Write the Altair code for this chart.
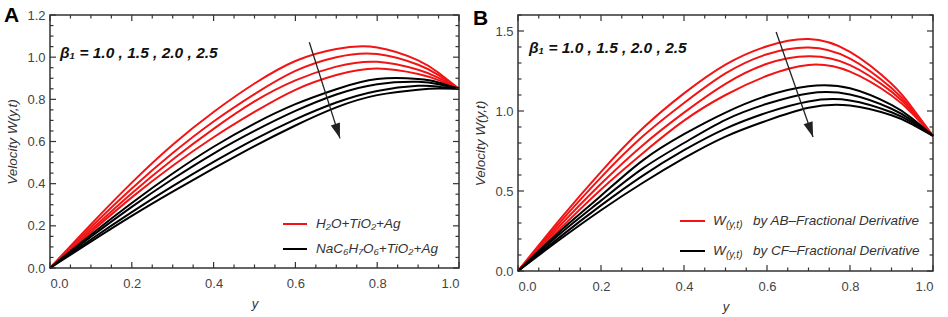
import altair as alt
import pandas as pd

# ---------------- data ----------------
ygrid = [0, 0.1, 0.2, 0.3, 0.4, 0.5, 0.6, 0.7, 0.8, 0.9, 0.95, 1.0]
betas = ["1.0", "1.5", "2.0", "2.5"]

# Panel A: H2O+TiO2+Ag (red) and NaC6H7O6+TiO2+Ag (black)
A_red = [
    [0, 0.207, 0.405, 0.585, 0.740, 0.875, 0.982, 1.039, 1.046, 0.985, 0.926, 0.85],
    [0, 0.193, 0.377, 0.545, 0.695, 0.825, 0.935, 1.000, 1.015, 0.964, 0.915, 0.85],
    [0, 0.180, 0.355, 0.515, 0.660, 0.790, 0.890, 0.955, 0.978, 0.940, 0.902, 0.85],
    [0, 0.170, 0.335, 0.485, 0.620, 0.740, 0.845, 0.915, 0.946, 0.920, 0.891, 0.85],
]
A_black = [
    [0, 0.158, 0.308, 0.448, 0.575, 0.685, 0.777, 0.848, 0.896, 0.896, 0.880, 0.85],
    [0, 0.148, 0.290, 0.422, 0.543, 0.650, 0.745, 0.823, 0.872, 0.883, 0.872, 0.85],
    [0, 0.135, 0.265, 0.388, 0.503, 0.610, 0.705, 0.785, 0.840, 0.864, 0.860, 0.85],
    [0, 0.125, 0.247, 0.362, 0.472, 0.578, 0.676, 0.762, 0.820, 0.846, 0.851, 0.85],
]
# Panel B: AB-fractional (red) and CF-fractional (black)
B_red = [
    [0, 0.320, 0.620, 0.890, 1.110, 1.290, 1.405, 1.450, 1.370, 1.170, 1.020, 0.845],
    [0, 0.300, 0.585, 0.840, 1.050, 1.235, 1.355, 1.397, 1.328, 1.144, 1.009, 0.845],
    [0, 0.280, 0.545, 0.785, 0.990, 1.170, 1.295, 1.342, 1.287, 1.121, 0.997, 0.845],
    [0, 0.260, 0.510, 0.735, 0.940, 1.100, 1.220, 1.288, 1.246, 1.097, 0.984, 0.845],
]
B_black = [
    [0, 0.245, 0.470, 0.690, 0.855, 0.990, 1.095, 1.155, 1.142, 1.038, 0.953, 0.845],
    [0, 0.230, 0.440, 0.640, 0.800, 0.945, 1.045, 1.110, 1.103, 1.014, 0.940, 0.845],
    [0, 0.210, 0.410, 0.595, 0.755, 0.890, 0.990, 1.060, 1.066, 0.992, 0.928, 0.845],
    [0, 0.195, 0.380, 0.550, 0.705, 0.840, 0.940, 1.020, 1.034, 0.973, 0.917, 0.845],
]

x_major = [0, 0.2, 0.4, 0.6, 0.8, 1.0]
x_minor = [0.05, 0.1, 0.15, 0.25, 0.3, 0.35, 0.45, 0.5, 0.55, 0.65, 0.7, 0.75, 0.85, 0.9, 0.95]
A_y_major = [0, 0.2, 0.4, 0.6, 0.8, 1.0, 1.2]
A_y_minor = [0.05, 0.1, 0.15, 0.25, 0.3, 0.35, 0.45, 0.5, 0.55, 0.65, 0.7, 0.75,
             0.85, 0.9, 0.95, 1.05, 1.1, 1.15]
B_y_major = [0, 0.5, 1.0, 1.5]
B_y_minor = [0.1, 0.2, 0.3, 0.4, 0.6, 0.7, 0.8, 0.9, 1.1, 1.2, 1.3, 1.4, 1.6]

# arrows (start -> end, data coordinates)
A_arrow_x = [0.634, 0.709]
A_arrow_y = [1.071, 0.615]
B_arrow_x = [0.622, 0.711]
B_arrow_y = [1.494, 0.838]

A_leg = ["H₂O+TiO₂+Ag", "NaC₆H₇O₆+TiO₂+Ag"]
B_leg = ["by AB–Fractional Derivative", "by CF–Fractional Derivative"]
beta_text = "β₁ = 1.0 , 1.5 , 2.0 , 2.5"

FONT = "Liberation Sans"
RED = "#f21414"
BLACK = "#000000"
AXC = "#333333"


def long_df(reds, blacks):
    rows = []
    for grp, series in (("red", reds), ("black", blacks)):
        for b, vals in zip(betas, series):
            for yy, w in zip(ygrid, vals):
                rows.append({"y": yy, "W": w, "grp": grp, "beta": b, "key": grp + b})
    return pd.DataFrame(rows)


def tick_layers(xs, ys, W, H, xvals, yvals, ln):
    xd = alt.Chart(pd.DataFrame({"t": xvals}))
    yd = alt.Chart(pd.DataFrame({"t": yvals}))
    return [
        xd.mark_rule(color=AXC, strokeWidth=1.2).encode(
            x=alt.X("t:Q", scale=xs), y=alt.value(H), y2=alt.value(H - ln)),
        xd.mark_rule(color=AXC, strokeWidth=1.2).encode(
            x=alt.X("t:Q", scale=xs), y=alt.value(0), y2=alt.value(ln)),
        yd.mark_rule(color=AXC, strokeWidth=1.2).encode(
            y=alt.Y("t:Q", scale=ys), x=alt.value(0), x2=alt.value(ln)),
        yd.mark_rule(color=AXC, strokeWidth=1.2).encode(
            y=alt.Y("t:Q", scale=ys), x=alt.value(W), x2=alt.value(W - ln)),
    ]


def panel(reds, blacks, ymax, y_major, y_minor, arrow_x, arrow_y,
          arrow_angle, W, H, letter, letter_xy, beta_xy, legend_layers):
    df = long_df(reds, blacks)
    xs = alt.Scale(domain=[0, 1], nice=False, zero=False)
    ys = alt.Scale(domain=[0, ymax], nice=False, zero=False)
    lab = dict(labelFont=FONT, labelFontSize=13, labelColor="#444",
               ticks=False, domain=False, grid=False,
               titleFont=FONT, titleFontStyle="italic", titleFontWeight="normal",
               titleColor="#333")
    lines = alt.Chart(df).mark_line(strokeWidth=2, interpolate="natural").encode(
        x=alt.X("y:Q", scale=xs,
                axis=alt.Axis(values=x_major, format=".1f", labelPadding=9,
                              title="y", titleFontSize=13, titlePadding=7, **lab)),
        y=alt.Y("W:Q", scale=ys,
                axis=alt.Axis(values=y_major, format=".1f", labelPadding=5,
                              title="Velocity W(y,t)", titleFontSize=13.5,
                              titlePadding=7, **lab)),
        color=alt.Color("grp:N", scale=alt.Scale(domain=["red", "black"], range=[RED, BLACK]),
                        legend=None),
        detail="key:N",
    )

    ticks = (tick_layers(xs, ys, W, H, x_major, y_major, 6)
             + tick_layers(xs, ys, W, H, x_minor, y_minor, 3.5))

    adf = pd.DataFrame({"ax": arrow_x, "ay": arrow_y})
    arrow = alt.Chart(adf).mark_line(color="#222", strokeWidth=1.3).encode(
        x=alt.X("ax:Q", scale=xs), y=alt.Y("ay:Q", scale=ys))
    head = alt.Chart(adf.iloc[[1]]).mark_point(
        shape="M0,0L-0.32,-1L0.32,-1Z", size=900, filled=True, color="#222",
        opacity=1, angle=arrow_angle).encode(
        x=alt.X("ax:Q", scale=xs), y=alt.Y("ay:Q", scale=ys))

    beta = alt.Chart(pd.DataFrame({"t": [beta_text]})).mark_text(
        font=FONT, fontSize=15.5, fontStyle="italic", fontWeight="bold", align="left",
        baseline="middle", color="#111").encode(
        text="t:N", x=alt.value(beta_xy[0]), y=alt.value(beta_xy[1]))

    let = alt.Chart(pd.DataFrame({"t": [letter]})).mark_text(
        font=FONT, fontSize=21, fontWeight="bold", align="left",
        baseline="alphabetic", color="#000").encode(
        text="t:N", x=alt.value(letter_xy[0]), y=alt.value(letter_xy[1]))

    return alt.layer(lines, *ticks, arrow, head, beta, let, *legend_layers).properties(
        width=W, height=H)


def legend_row(x1, x2, tx, yy, color, label, sub=False):
    one = pd.DataFrame({"t": [label]})
    rule = alt.Chart(one).mark_rule(color=color, strokeWidth=2).encode(
        x=alt.value(x1), x2=alt.value(x2), y=alt.value(yy))
    out = [rule]
    txt = dict(font=FONT, fontStyle="italic", align="left", baseline="middle", color="#333")
    if sub:
        out.append(alt.Chart(pd.DataFrame({"t": ["W"]})).mark_text(fontSize=13.5, **txt).encode(
            text="t:N", x=alt.value(tx), y=alt.value(yy)))
        out.append(alt.Chart(pd.DataFrame({"t": ["(y,t)"]})).mark_text(fontSize=10, **txt).encode(
            text="t:N", x=alt.value(tx + 13), y=alt.value(yy + 4)))
        out.append(alt.Chart(one).mark_text(fontSize=13.5, **txt).encode(
            text="t:N", x=alt.value(tx + 40), y=alt.value(yy)))
    else:
        out.append(alt.Chart(one).mark_text(fontSize=13.5, **txt).encode(
            text="t:N", x=alt.value(tx), y=alt.value(yy)))
    return out


WA, HA = 409, 253
WB, HB = 415, 256

legA = legend_row(233, 257, 266, 209, RED, A_leg[0]) + legend_row(233, 257, 266, 234, BLACK, A_leg[1])
legB = legend_row(162, 187, 195, 206, RED, B_leg[0], True) + legend_row(162, 187, 195, 236, BLACK, B_leg[1], True)

pA = panel(A_red, A_black, 1.2, A_y_major, A_y_minor, A_arrow_x, A_arrow_y, 342,
           WA, HA, "A", (-46, 6.5), (10, 38), legA)
pB = panel(B_red, B_black, 1.6, B_y_major, B_y_minor, B_arrow_x, B_arrow_y, 340.6,
           WB, HB, "B", (-45, 9.5), (11, 33), legB)

chart = alt.hconcat(pA, pB, spacing=8).resolve_scale(x="independent", y="independent").configure(
    padding={"left": 3, "top": 3, "right": 5, "bottom": 0}
).configure_view(stroke=AXC, strokeWidth=1.5)

chart.save("out.html", embed_options={"renderer": "svg", "actions": False})
